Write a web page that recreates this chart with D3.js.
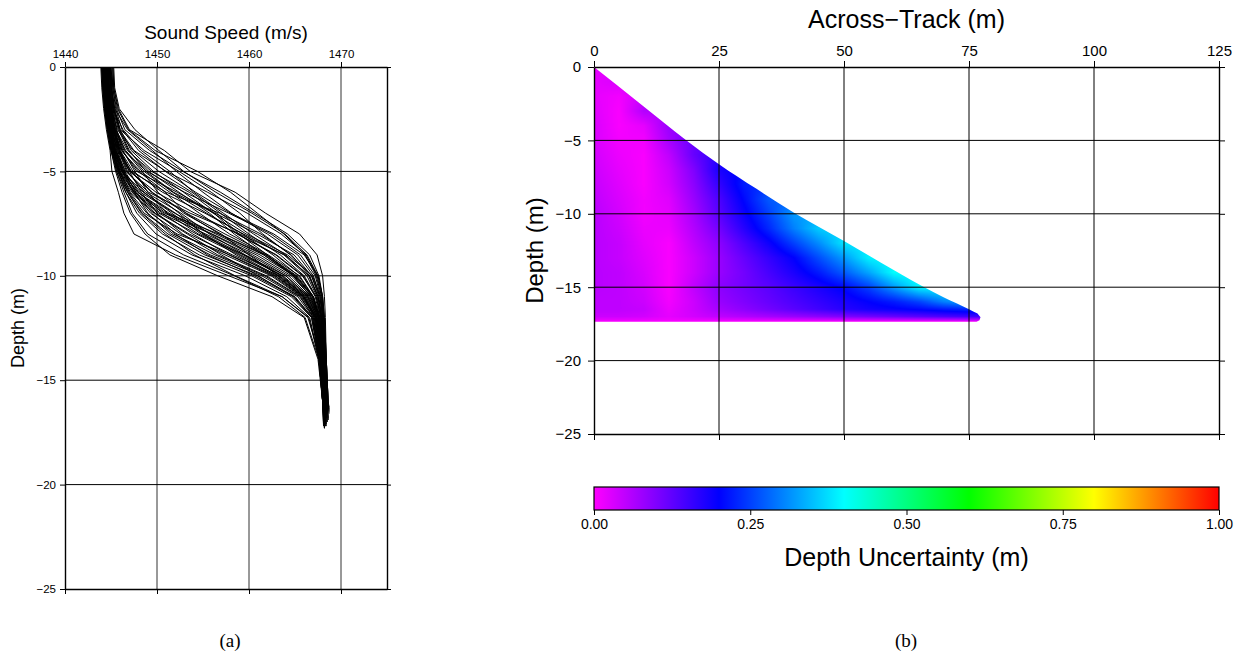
<!DOCTYPE html>
<html><head><meta charset="utf-8">
<script src="https://cdn.jsdelivr.net/npm/d3@7"></script>
<style>
body{margin:0;background:#fff}
svg{display:block}
text{font-family:"Liberation Sans",Arial,Helvetica,sans-serif;fill:#000}
</style>
</head><body>
<svg id="chart" width="1237" height="664"></svg>
<script>
// ---------------- DATA ----------------
// Panel (a): sound speed profiles
const speedTicks = [1440, 1450, 1460, 1470];
const depthTicksA = [0, -5, -10, -15, -20, -25];
const profileDepths = [0.05, 1, 2, 3, 4, 5, 6, 7, 8, 9, 10, 11, 12, 14, 16];
const profileEndDepths = [16.6,16.9,17.0,16.4,16.8,17.1,16.7,16.5,17.2,16.3,16.9,17.3,16.6,17.0,16.2,16.8,17.1,16.5,16.9,16.4,17.2,16.7,17.0,16.6,17.1,16.8,17.3,16.5,16.9,17.2,16.9,16.6,17.0,16.7,16.4,16.8,
  16.5,17.0,16.7,16.9,17.1,16.4,16.8,16.3,17.2,16.6,17.0,16.9,17.1,16.6,17.3,16.5];
const profiles = [
[1445.2,1445.3,1445.8,1447.0,1450.8,1453.6,1458.5,1461.8,1465.5,1467.4,1468.0,1468.2,1468.3,1468.4,1468.6,1468.7],
[1445.0,1445.2,1445.6,1446.5,1449.2,1452.8,1456.9,1460.6,1464.2,1466.6,1467.6,1468.0,1468.1,1468.3,1468.5,1468.6],
[1444.8,1445.0,1445.3,1445.9,1447.5,1451.0,1455.5,1459.8,1463.5,1466.2,1467.4,1467.9,1468.1,1468.2,1468.4,1468.5],
[1444.6,1444.8,1445.0,1445.5,1446.4,1448.9,1453.0,1457.8,1462.4,1465.6,1467.2,1467.8,1468.0,1468.2,1468.4,1468.5],
[1444.9,1445.0,1445.2,1445.6,1446.2,1447.8,1452.2,1456.3,1460.9,1464.9,1466.8,1467.6,1467.9,1468.1,1468.3,1468.4],
[1444.5,1444.6,1444.9,1445.3,1446.0,1447.4,1450.6,1455.2,1459.4,1463.8,1466.3,1467.4,1467.8,1468.0,1468.3,1468.3],
[1444.3,1444.5,1444.8,1445.1,1445.7,1447.0,1449.9,1454.1,1458.8,1463.0,1465.9,1467.2,1467.7,1468.0,1468.2,1468.3],
[1444.7,1444.8,1445.1,1445.4,1446.1,1448.2,1451.4,1454.6,1457.9,1462.1,1465.5,1467.0,1467.6,1467.9,1468.2,1468.2],
[1444.2,1444.3,1444.6,1445.0,1445.5,1446.6,1449.1,1453.6,1459.0,1463.9,1466.5,1467.5,1467.9,1468.1,1468.3,1468.4],
[1444.6,1444.7,1444.9,1445.2,1445.9,1447.2,1451.0,1456.8,1461.3,1464.6,1466.6,1467.5,1467.9,1468.1,1468.4,1468.5],
[1444.4,1444.5,1444.7,1445.0,1445.4,1446.3,1448.2,1451.9,1456.4,1461.2,1464.9,1466.9,1467.6,1468.0,1468.2,1468.3],
[1444.1,1444.2,1444.4,1444.8,1445.2,1446.0,1447.6,1450.8,1455.9,1460.4,1464.3,1466.6,1467.5,1467.9,1468.1,1468.2],
[1444.5,1444.6,1444.9,1445.3,1445.8,1446.7,1448.8,1452.6,1455.7,1459.6,1463.6,1466.2,1467.3,1467.8,1468.1,1468.2],
[1444.0,1444.1,1444.3,1444.6,1445.0,1445.8,1447.3,1450.2,1454.3,1458.9,1463.1,1465.9,1467.2,1467.8,1468.1,1468.2],
[1444.8,1444.9,1445.1,1445.4,1446.0,1447.1,1449.4,1453.2,1457.4,1461.9,1465.2,1467.0,1467.7,1468.0,1468.3,1468.4],
[1444.3,1444.4,1444.6,1444.9,1445.3,1446.1,1447.9,1451.3,1456.0,1460.8,1464.6,1466.8,1467.6,1468.0,1468.3,1468.4],
[1444.6,1444.7,1445.0,1445.3,1445.7,1446.5,1448.0,1450.6,1453.9,1457.8,1462.6,1465.8,1467.2,1467.8,1468.1,1468.2],
[1444.2,1444.3,1444.5,1444.8,1445.3,1446.2,1448.5,1452.0,1455.1,1458.6,1462.9,1466.0,1467.3,1467.9,1468.2,1468.3],
[1444.5,1444.6,1444.8,1445.1,1445.6,1446.4,1447.7,1449.8,1453.5,1458.2,1463.3,1466.3,1467.4,1467.9,1468.2,1468.3],
[1444.0,1444.2,1444.4,1444.7,1445.1,1445.9,1447.5,1450.4,1455.3,1460.1,1464.0,1466.5,1467.5,1468.0,1468.3,1468.4],
[1444.7,1444.8,1445.0,1445.4,1445.9,1446.8,1448.6,1451.6,1454.8,1459.1,1463.7,1466.4,1467.4,1467.9,1468.2,1468.3],
[1444.3,1444.4,1444.6,1444.9,1445.4,1446.2,1447.9,1451.0,1456.7,1461.6,1464.8,1466.7,1467.6,1468.0,1468.3,1468.3],
[1444.2,1444.3,1444.5,1444.8,1445.2,1445.9,1447.0,1448.9,1451.8,1456.3,1461.7,1465.5,1467.1,1467.8,1468.1,1468.2],
[1444.5,1444.6,1444.8,1445.1,1445.5,1446.2,1447.4,1449.3,1452.6,1457.4,1462.4,1465.7,1467.2,1467.8,1468.1,1468.2],
[1444.1,1444.2,1444.4,1444.7,1445.1,1445.7,1446.8,1448.4,1451.2,1455.2,1460.9,1465.0,1466.9,1467.7,1468.1,1468.1],
[1444.4,1444.5,1444.7,1445.0,1445.4,1446.0,1447.1,1449.7,1453.3,1457.0,1461.0,1464.8,1466.8,1467.6,1468.0,1468.1],
[1444.0,1444.1,1444.3,1444.6,1445.0,1445.6,1446.6,1448.1,1450.6,1454.6,1460.3,1464.6,1466.8,1467.7,1468.1,1468.2],
[1444.6,1444.7,1444.9,1445.2,1445.6,1446.3,1447.5,1449.0,1451.5,1455.8,1461.4,1465.3,1467.0,1467.7,1468.0,1468.1],
[1444.3,1444.4,1444.6,1444.9,1445.3,1445.9,1446.9,1448.6,1452.2,1457.9,1462.8,1465.9,1467.3,1467.9,1468.2,1468.2],
[1444.1,1444.2,1444.4,1444.7,1445.1,1445.8,1446.8,1448.3,1450.9,1454.1,1458.5,1463.6,1466.5,1467.6,1468.0,1468.1],
[1443.9,1444.0,1444.2,1444.5,1444.9,1445.1,1445.8,1446.4,1447.5,1452.0,1457.8,1463.6,1466.4,1467.8,1468.2,1468.3],
[1444.2,1444.3,1444.5,1444.8,1445.2,1445.6,1446.4,1447.3,1449.0,1452.9,1458.4,1463.2,1466.1,1467.6,1468.0,1468.1],
[1444.4,1444.5,1444.7,1445.0,1445.3,1445.8,1446.6,1447.8,1449.9,1453.8,1459.6,1464.1,1466.6,1467.6,1468.0,1468.1],
[1444.0,1444.1,1444.3,1444.6,1445.0,1445.5,1446.2,1447.1,1448.7,1451.4,1456.6,1462.5,1466.0,1467.5,1468.0,1468.1],
[1445.1,1445.2,1445.5,1446.2,1448.0,1450.9,1454.2,1458.0,1462.7,1466.0,1467.5,1468.0,1468.2,1468.4,1468.6,1468.7],
[1444.9,1445.1,1445.4,1446.0,1447.2,1449.6,1452.9,1456.1,1459.7,1464.2,1466.9,1467.8,1468.1,1468.3,1468.5,1468.6],
[1445.3,1445.4,1445.9,1447.6,1450.2,1452.9,1456.4,1460.3,1463.9,1466.3,1467.5,1468.0,1468.2,1468.4,1468.6,1468.7],
[1444.9,1445.0,1445.4,1446.8,1449.5,1452.1,1455.0,1458.1,1462.0,1465.3,1467.0,1467.7,1468.0,1468.2,1468.4,1468.5],
[1444.7,1444.8,1445.2,1446.3,1448.3,1451.4,1454.0,1457.2,1460.5,1464.0,1466.5,1467.5,1467.9,1468.1,1468.3,1468.4],
[1445.0,1445.1,1445.3,1446.0,1448.6,1452.4,1455.9,1459.0,1461.5,1464.5,1466.8,1467.7,1468.0,1468.3,1468.5,1468.6],
[1444.6,1444.7,1445.0,1445.7,1447.4,1450.2,1453.8,1456.9,1460.0,1463.4,1466.0,1467.3,1467.8,1468.1,1468.4,1468.4],
[1444.8,1444.9,1445.2,1445.8,1446.9,1449.1,1452.4,1455.7,1458.4,1461.6,1465.0,1467.0,1467.6,1468.0,1468.3,1468.4],
[1444.4,1444.5,1444.8,1445.4,1446.6,1448.6,1451.7,1455.4,1459.3,1462.6,1465.4,1467.0,1467.7,1468.0,1468.3,1468.4],
[1445.2,1445.3,1445.7,1446.9,1449.8,1454.4,1458.0,1460.9,1463.8,1466.1,1467.3,1467.9,1468.1,1468.4,1468.6,1468.7],
[1444.5,1444.6,1444.9,1445.5,1446.8,1449.4,1453.5,1456.5,1458.9,1462.0,1464.8,1466.7,1467.5,1467.9,1468.2,1468.3],
[1444.3,1444.4,1444.7,1445.2,1446.2,1448.0,1450.9,1453.1,1456.8,1461.8,1465.1,1466.9,1467.6,1468.0,1468.2,1468.3],
[1444.7,1444.8,1445.1,1445.6,1446.5,1448.4,1450.1,1452.9,1457.0,1460.0,1463.2,1466.1,1467.3,1467.9,1468.2,1468.3],
[1444.2,1444.3,1444.6,1445.0,1445.8,1447.2,1449.5,1452.4,1455.0,1459.5,1464.0,1466.4,1467.4,1467.9,1468.2,1468.2],
[1444.6,1444.7,1445.0,1445.4,1446.3,1447.6,1449.0,1451.1,1454.5,1459.4,1463.5,1466.0,1467.1,1467.7,1468.0,1468.1],
[1444.4,1444.5,1444.8,1445.2,1445.9,1447.0,1448.3,1450.0,1452.8,1456.6,1461.9,1465.6,1467.0,1467.7,1468.1,1468.2],
[1444.1,1444.2,1444.5,1444.9,1445.5,1446.4,1447.7,1449.5,1452.0,1455.5,1460.6,1464.9,1466.9,1467.7,1468.1,1468.2],
[1444.9,1445.0,1445.3,1445.9,1447.0,1448.8,1451.8,1456.2,1458.7,1462.9,1465.8,1467.3,1467.8,1468.1,1468.4,1468.5]
];

// Panel (b): depth uncertainty swath
const acrossTicks = [0, 25, 50, 75, 100, 125];
const depthTicksB = [0, -5, -10, -15, -20, -25];
const swathEdge = [[0,0],[9.25,2.5],[18.5,5],[25,6.62],[32.5,8.3],[40,9.92],[45,10.9],[50,11.85],[57.5,13.35],[65.5,14.9],[70,15.7],[75,16.5],[76.7,16.8],[77.3,17.05],[77.1,17.25],[76.5,17.35]];
const swathBottom = 17.35;
const gridAcross = [0,5,10,15,20,25,30,35,40,45,50,55,60,65,70,75,80];
const gridDepth = [0,1,2,3,4,5,6,7,8,9,10,11,12,13,14,15,16,16.5,17,17.35];
const uncertainty = [
[0.02,0.02,0.02,0.02,0.02,0.02,0.02,0.02,0.02,0.02,0.02,0.02,0.02,0.02,0.02,0.02,0.02],
[0.02,0.03,0.03,0.03,0.03,0.03,0.03,0.03,0.03,0.03,0.03,0.03,0.03,0.03,0.03,0.03,0.03],
[0.02,0.01,0.04,0.04,0.04,0.04,0.04,0.04,0.04,0.04,0.04,0.04,0.04,0.04,0.04,0.04,0.04],
[0.025,0.005,0.06,0.06,0.06,0.06,0.06,0.06,0.06,0.06,0.06,0.06,0.06,0.06,0.06,0.06,0.06],
[0.03,0.005,0.02,0.08,0.09,0.09,0.09,0.09,0.09,0.09,0.09,0.09,0.09,0.09,0.09,0.09,0.09],
[0.03,0.01,0.01,0.07,0.12,0.12,0.12,0.12,0.12,0.12,0.12,0.12,0.12,0.12,0.12,0.12,0.12],
[0.035,0.015,0.005,0.05,0.12,0.17,0.17,0.17,0.17,0.17,0.17,0.17,0.17,0.17,0.17,0.17,0.17],
[0.04,0.02,0.005,0.04,0.10,0.18,0.21,0.21,0.21,0.21,0.21,0.21,0.21,0.21,0.21,0.21,0.21],
[0.045,0.025,0.005,0.035,0.09,0.16,0.22,0.24,0.24,0.24,0.24,0.24,0.24,0.24,0.24,0.24,0.24],
[0.05,0.03,0.01,0.025,0.08,0.14,0.205,0.27,0.28,0.28,0.28,0.28,0.28,0.28,0.28,0.28,0.28],
[0.055,0.035,0.01,0.02,0.07,0.13,0.19,0.25,0.32,0.33,0.33,0.33,0.33,0.33,0.33,0.33,0.33],
[0.055,0.04,0.015,0.015,0.06,0.11,0.17,0.23,0.30,0.36,0.37,0.37,0.37,0.37,0.37,0.37,0.37],
[0.055,0.045,0.02,0.005,0.05,0.09,0.14,0.19,0.25,0.31,0.38,0.39,0.39,0.39,0.39,0.39,0.39],
[0.055,0.045,0.025,0.005,0.04,0.08,0.12,0.16,0.20,0.26,0.32,0.39,0.40,0.40,0.40,0.40,0.40],
[0.055,0.05,0.03,0.005,0.04,0.08,0.11,0.145,0.18,0.22,0.27,0.33,0.40,0.41,0.41,0.41,0.41],
[0.055,0.05,0.035,0.005,0.05,0.09,0.11,0.13,0.155,0.18,0.205,0.25,0.32,0.39,0.40,0.40,0.40],
[0.05,0.05,0.04,0.01,0.04,0.08,0.10,0.12,0.14,0.16,0.18,0.20,0.22,0.25,0.30,0.33,0.33],
[0.05,0.05,0.045,0.015,0.04,0.07,0.09,0.11,0.13,0.15,0.17,0.185,0.195,0.205,0.22,0.23,0.23],
[0.04,0.04,0.035,0.02,0.035,0.05,0.06,0.07,0.08,0.09,0.10,0.11,0.12,0.13,0.14,0.15,0.15],
[0.005,0.005,0.005,0.005,0.005,0.005,0.005,0.005,0.005,0.005,0.005,0.005,0.005,0.005,0.005,0.005,0.005]
];
const cbarTicks = [0, 0.25, 0.5, 0.75, 1];
const cbarStops = [0, 0.2, 0.4, 0.6, 0.8, 1];
const cbarColors = ["#ff00ff", "#0000ff", "#00ffff", "#00ff00", "#ffff00", "#ff0000"];

// ---------------- CHART ----------------
const svg = d3.select("#chart");
const GRID = "#333";

function styleAxis(g, size) {
  g.attr("font-family", "Liberation Sans, Arial, sans-serif").attr("font-size", size);
  g.select(".domain").attr("stroke", "#000").attr("stroke-width", 1.4);
  g.selectAll(".tick line").attr("stroke", "#000").attr("stroke-width", 1);
}

// ===== Panel (a) =====
const xA = d3.scaleLinear().domain([1440, 1475]).range([65, 387]);
const yA = d3.scaleLinear().domain([0, -25]).range([67, 589]);
const gA = svg.append("g");

gA.append("g").selectAll("line").data(speedTicks.slice(1)).join("line")
  .attr("x1", d => xA(d)).attr("x2", d => xA(d)).attr("y1", yA(0)).attr("y2", yA(-25))
  .attr("stroke", GRID).attr("stroke-width", 1);
gA.append("g").selectAll("line").data(depthTicksA.slice(1, -1)).join("line")
  .attr("x1", xA(1440)).attr("x2", xA(1475)).attr("y1", d => yA(d)).attr("y2", d => yA(d))
  .attr("stroke", "#000").attr("stroke-width", 1);

const lineA = d3.line().x(d => xA(d[0])).y(d => yA(-d[1]));
gA.append("g").selectAll("path").data(profiles).join("path")
  .attr("d", (p, i) => lineA(p.map((s, k) => [s, k < profileDepths.length ? profileDepths[k] : profileEndDepths[i]])))
  .attr("fill", "none").attr("stroke", "#000").attr("stroke-width", 1).attr("stroke-linejoin", "round");

gA.append("g").attr("transform", `translate(0,${yA(0)})`)
  .call(d3.axisTop(xA).tickValues(speedTicks).tickSize(5).tickSizeOuter(0).tickPadding(4).tickFormat(d3.format("d")))
  .call(g => styleAxis(g, 11.5));
gA.append("g").attr("transform", `translate(0,${yA(-25)})`)
  .call(d3.axisBottom(xA).tickValues(speedTicks).tickSize(5).tickSizeOuter(0).tickFormat(""))
  .call(g => styleAxis(g, 11.5));
gA.append("g").attr("transform", `translate(${xA(1440)},0)`)
  .call(d3.axisLeft(yA).tickValues(depthTicksA).tickSize(5).tickSizeOuter(0).tickPadding(4))
  .call(g => styleAxis(g, 11.5));
gA.append("g").attr("transform", `translate(${xA(1475)},0)`)
  .call(d3.axisRight(yA).tickValues(depthTicksA).tickSize(4).tickSizeOuter(0).tickFormat(""))
  .call(g => styleAxis(g, 11.5));

gA.append("text").attr("x", (xA(1440) + xA(1475)) / 2).attr("y", 39)
  .attr("text-anchor", "middle").attr("font-size", 19).text("Sound Speed (m/s)");
gA.append("text").attr("transform", `translate(24,${(yA(0) + yA(-25)) / 2}) rotate(-90)`)
  .attr("text-anchor", "middle").attr("font-size", 18).text("Depth (m)");

// ===== Panel (b) =====
const xB = d3.scaleLinear().domain([0, 125]).range([594, 1219]);
const yB = d3.scaleLinear().domain([0, -25]).range([67, 434]);
const gB = svg.append("g");
const colorScale = d3.scaleLinear().domain(cbarStops).range(cbarColors).clamp(true);

function sampleU(xm, dm) {
  const i = Math.max(0, Math.min(gridAcross.length - 2, d3.bisectRight(gridAcross, xm) - 1));
  const j = Math.max(0, Math.min(gridDepth.length - 2, d3.bisectRight(gridDepth, dm) - 1));
  const tx = Math.max(0, Math.min(1, (xm - gridAcross[i]) / (gridAcross[i + 1] - gridAcross[i])));
  const ty = Math.max(0, Math.min(1, (dm - gridDepth[j]) / (gridDepth[j + 1] - gridDepth[j])));
  const a = uncertainty[j][i], b = uncertainty[j][i + 1], c = uncertainty[j + 1][i], d = uncertainty[j + 1][i + 1];
  return (a * (1 - tx) + b * tx) * (1 - ty) + (c * (1 - tx) + d * tx) * ty;
}
const px0 = Math.floor(xB(0)), px1 = Math.ceil(xB(gridAcross[gridAcross.length - 1]));
const py0 = Math.floor(yB(0)), py1 = Math.ceil(yB(-swathBottom)) + 1;
const W = px1 - px0, H = py1 - py0;
const cv = document.createElement("canvas"); cv.width = W; cv.height = H;
const ctx = cv.getContext("2d");
const img = ctx.createImageData(W, H);
const LUTN = 1024;
const lut = d3.range(LUTN).map(k => d3.rgb(colorScale(k / (LUTN - 1))));
for (let r = 0; r < H; r++) {
  const dm = -yB.invert(py0 + r + 0.5);
  for (let c = 0; c < W; c++) {
    const xm = xB.invert(px0 + c + 0.5);
    const v = Math.max(0, Math.min(1, sampleU(xm, dm)));
    const col = lut[Math.round(v * (LUTN - 1))];
    const o = (r * W + c) * 4;
    img.data[o] = col.r; img.data[o + 1] = col.g; img.data[o + 2] = col.b; img.data[o + 3] = 255;
  }
}
ctx.putImageData(img, 0, 0);

const clipPts = swathEdge.concat([[0, swathBottom]]);
svg.append("defs").append("clipPath").attr("id", "swathClip")
  .append("path").attr("d", d3.line().x(d => xB(d[0])).y(d => yB(-d[1])).curve(d3.curveMonotoneX)(clipPts.slice(0, 13)) +
    d3.line().x(d => xB(d[0])).y(d => yB(-d[1]))(clipPts.slice(12)).replace(/^M/, "L") + "Z");
gB.append("image").attr("href", cv.toDataURL())
  .attr("x", px0).attr("y", py0).attr("width", W).attr("height", H)
  .attr("preserveAspectRatio", "none").attr("clip-path", "url(#swathClip)");

gB.append("g").selectAll("line").data(acrossTicks.slice(1, -1)).join("line")
  .attr("x1", d => xB(d)).attr("x2", d => xB(d)).attr("y1", yB(0)).attr("y2", yB(-25))
  .attr("stroke", "#000").attr("stroke-width", 1);
gB.append("g").selectAll("line").data(depthTicksB.slice(1, -1)).join("line")
  .attr("x1", xB(0)).attr("x2", xB(125)).attr("y1", d => yB(d)).attr("y2", d => yB(d))
  .attr("stroke", "#000").attr("stroke-width", 1);

gB.append("g").attr("transform", `translate(0,${yB(0)})`)
  .call(d3.axisTop(xB).tickValues(acrossTicks).tickSize(6).tickSizeOuter(0).tickPadding(5))
  .call(g => styleAxis(g, 15));
gB.append("g").attr("transform", `translate(0,${yB(-25)})`)
  .call(d3.axisBottom(xB).tickValues(acrossTicks).tickSize(6).tickSizeOuter(0).tickFormat(""))
  .call(g => styleAxis(g, 15));
gB.append("g").attr("transform", `translate(${xB(0)},0)`)
  .call(d3.axisLeft(yB).tickValues(depthTicksB).tickSize(6).tickSizeOuter(0).tickPadding(7))
  .call(g => styleAxis(g, 15));
gB.append("g").attr("transform", `translate(${xB(125)},0)`)
  .call(d3.axisRight(yB).tickValues(depthTicksB).tickSize(6).tickSizeOuter(0).tickFormat(""))
  .call(g => styleAxis(g, 15));

gB.append("text").attr("x", (xB(0) + xB(125)) / 2).attr("y", 28)
  .attr("text-anchor", "middle").attr("font-size", 25).text("Across\u2212Track (m)");
gB.append("text").attr("transform", `translate(543,${(yB(0) + yB(-25)) / 2}) rotate(-90)`)
  .attr("text-anchor", "middle").attr("font-size", 24).text("Depth (m)");

// colorbar
const cbY = 487, cbH = 23;
const cbX = d3.scaleLinear().domain([0, 1]).range([xB(0), xB(125)]);
const grad = svg.select("defs").append("linearGradient").attr("id", "cbarGrad")
  .attr("x1", "0%").attr("x2", "100%").attr("y1", "0%").attr("y2", "0%");
grad.selectAll("stop").data(cbarStops).join("stop")
  .attr("offset", d => (d * 100) + "%").attr("stop-color", (d, i) => cbarColors[i]);
gB.append("rect").attr("x", cbX(0)).attr("y", cbY).attr("width", cbX(1) - cbX(0)).attr("height", cbH)
  .attr("fill", "url(#cbarGrad)").attr("stroke", "#000").attr("stroke-width", 1.2);
gB.append("g").attr("transform", `translate(0,${cbY + cbH})`)
  .call(d3.axisBottom(cbX).tickValues(cbarTicks).tickSize(5).tickSizeOuter(0).tickPadding(4).tickFormat(d3.format(".2f")))
  .call(g => { styleAxis(g, 14); g.select(".domain").remove(); });
gB.append("text").attr("x", (xB(0) + xB(125)) / 2).attr("y", 566)
  .attr("text-anchor", "middle").attr("font-size", 25).text("Depth Uncertainty (m)");

// captions
svg.append("text").attr("x", 230).attr("y", 647).attr("text-anchor", "middle")
  .style("font-family", "'Liberation Serif','DejaVu Serif',serif").attr("font-size", 19).text("(a)");
svg.append("text").attr("x", 906).attr("y", 647).attr("text-anchor", "middle")
  .style("font-family", "'Liberation Serif','DejaVu Serif',serif").attr("font-size", 19).text("(b)");
</script>
</body></html>
